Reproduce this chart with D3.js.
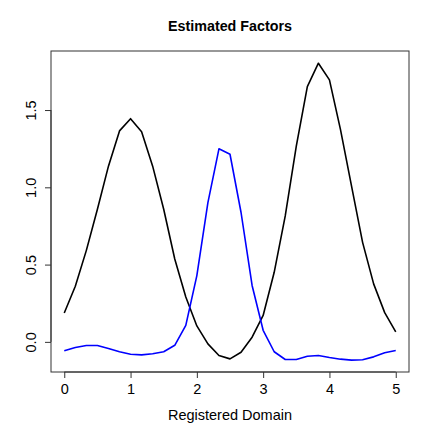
<!DOCTYPE html>
<html>
<head>
<meta charset="utf-8">
<script src="https://cdn.jsdelivr.net/npm/d3@7"></script>
<style>
  body { margin: 0; background: #fff; }
  svg { display: block; font-family: "Liberation Sans", Arial, sans-serif; }
</style>
</head>
<body>
<div id="grafico"></div>
<script>
// grid of the registered domain: 31 points from 0 to 5
const dominio = d3.range(31).map(i => i * 5 / 30);

// first factor (black)
const fator1 = [0.187, 0.36, 0.592, 0.858, 1.137, 1.365, 1.444, 1.36, 1.137, 0.858,
    0.536, 0.29, 0.103, -0.013, -0.088, -0.11, -0.067, 0.03, 0.171, 0.45,
    0.815, 1.266, 1.652, 1.803, 1.695, 1.373, 1.008, 0.644, 0.375, 0.189, 0.064];

// second factor (blue)
const fator2 = [-0.058, -0.037, -0.024, -0.024, -0.043, -0.064, -0.08, -0.084, -0.077, -0.064,
    -0.022, 0.107, 0.429, 0.901, 1.249, 1.214, 0.837, 0.365, 0.075, -0.064,
    -0.114, -0.114, -0.093, -0.088, -0.101, -0.112, -0.118, -0.116, -0.097, -0.071, -0.056];

const ticksX = [0, 1, 2, 3, 4, 5];
const ticksY = [0.0, 0.5, 1.0, 1.5];

function criarGrafico(target) {
    const largura = 436;
    const altura = 436;
    const margem = { top: 51, right: 27, bottom: 64, left: 51 };
    const fonte = "14.5px";

    const svg = d3.select(target)
        .append("svg")
        .attr("width", largura)
        .attr("height", altura);

    // escalas no estilo do R (4% de folga)
    const x = d3.scaleLinear()
        .domain([-0.2, 5.2])
        .range([margem.left, largura - margem.right]);
    const y = d3.scaleLinear()
        .domain([-0.195, 1.882])
        .range([altura - margem.bottom, margem.top]);

    // linhas
    const linha = d3.line()
        .x((d, i) => x(dominio[i]))
        .y(d => y(d));

    svg.append("path")
        .datum(fator1)
        .attr("fill", "none")
        .attr("stroke", "#000")
        .attr("stroke-width", 1.6)
        .attr("stroke-linejoin", "round")
        .attr("d", linha);

    svg.append("path")
        .datum(fator2)
        .attr("fill", "none")
        .attr("stroke", "#0000ff")
        .attr("stroke-width", 1.6)
        .attr("stroke-linejoin", "round")
        .attr("d", linha);

    // caixa
    svg.append("rect")
        .attr("x", margem.left)
        .attr("y", margem.top)
        .attr("width", largura - margem.left - margem.right)
        .attr("height", altura - margem.top - margem.bottom)
        .attr("fill", "none")
        .attr("stroke", "#333")
        .attr("stroke-width", 1);

    // eixo x
    const eixoX = svg.append("g")
        .attr("transform", `translate(0, ${altura - margem.bottom})`)
        .call(d3.axisBottom(x).tickValues(ticksX).tickSize(6).tickPadding(6).tickFormat(d3.format("d")));
    eixoX.select(".domain")
        .attr("d", `M${x(0)},0H${x(5)}`)
        .attr("stroke", "#333");
    eixoX.selectAll("line").attr("stroke", "#333");
    eixoX.selectAll("text")
        .attr("fill", "#000")
        .style("font-size", fonte)
        .style("font-family", "Liberation Sans, Arial, sans-serif");

    // eixo y
    const eixoY = svg.append("g")
        .attr("transform", `translate(${margem.left}, 0)`)
        .call(d3.axisLeft(y).tickValues(ticksY).tickSize(6).tickFormat(d3.format(".1f")));
    eixoY.select(".domain")
        .attr("d", `M0,${y(0)}V${y(1.5)}`)
        .attr("stroke", "#333");
    eixoY.selectAll("line").attr("stroke", "#333");
    eixoY.selectAll("text")
        .attr("fill", "#000")
        .attr("x", null)
        .attr("dy", null)
        .attr("text-anchor", "middle")
        .attr("transform", "translate(-15, 0) rotate(-90)")
        .style("font-size", fonte)
        .style("font-family", "Liberation Sans, Arial, sans-serif");

    // titulo
    svg.append("text")
        .attr("x", (margem.left + largura - margem.right) / 2)
        .attr("y", 31)
        .attr("text-anchor", "middle")
        .style("font-size", "14.3px")
        .style("font-weight", "bold")
        .text("Estimated Factors");

    // legenda do eixo x
    svg.append("text")
        .attr("x", (margem.left + largura - margem.right) / 2)
        .attr("y", 420)
        .attr("text-anchor", "middle")
        .style("font-size", fonte)
        .text("Registered Domain");
}

criarGrafico("#grafico");
</script>
</body>
</html>
